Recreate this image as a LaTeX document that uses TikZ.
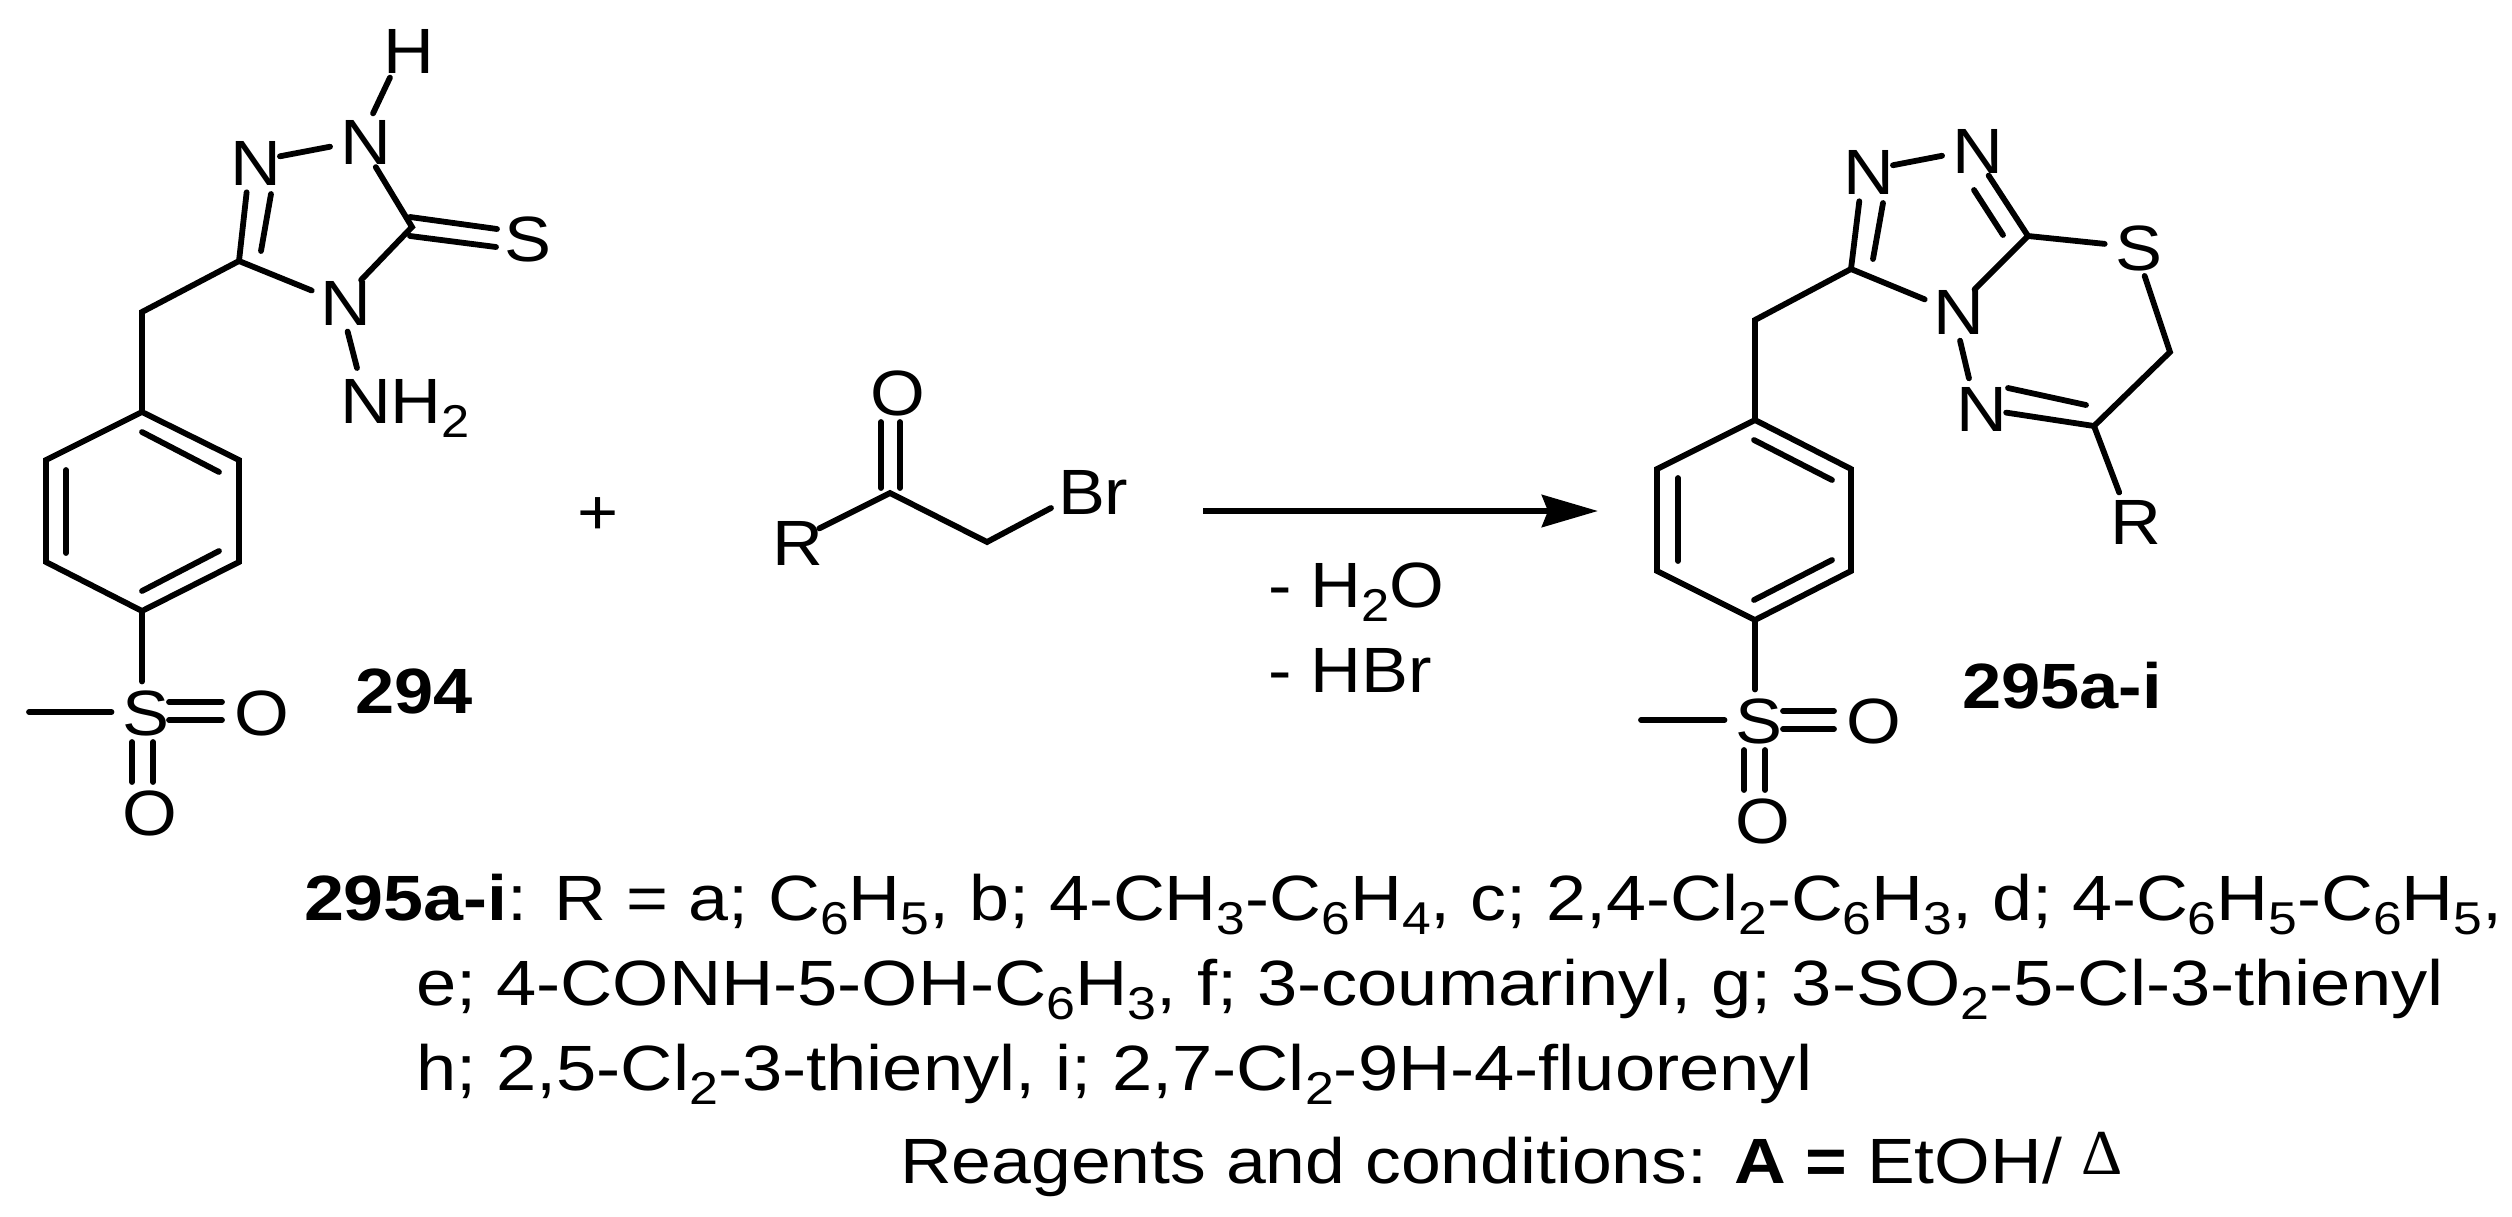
\documentclass[tikz,border=0pt]{standalone}
\usepackage{fontspec}
\setmainfont[FakeStretch=1.1]{Liberation Sans}
\newfontfamily\legendfont[FakeStretch=1.13]{Liberation Sans}
\newfontfamily\firstfont[FakeStretch=1.123]{Liberation Sans}
\newfontfamily\lastfont[FakeStretch=1.118]{Liberation Sans}
\newfontfamily\deltafont{Liberation Serif}
\usetikzlibrary{arrows.meta}
\newcommand{\sbs}[1]{\raisebox{-7pt}{\fontsize{23}{24}\selectfont #1}}
\tikzset{
 chem/.style={font=\fontsize{32}{36}\selectfont},
 atom/.style={chem,circle,inner sep=0pt,outer sep=0pt,text width=20pt,align=center,text height=23pt,text depth=0pt},
 txt/.style={chem,inner sep=0pt,outer sep=0pt,anchor=base west},
 lbl/.style={font=\fontsize{32}{36}\selectfont\bfseries,inner sep=0pt,outer sep=0pt,anchor=base},
 bond/.style={line width=2.9pt,line cap=round,line join=miter},
 rarrow/.style={line width=3.2pt,-{Stealth[length=28pt,width=16pt,inset=3pt]}}
}
\begin{document}
\begin{tikzpicture}[x=0.5pt,y=-0.5pt]
\useasboundingbox (0,0) rectangle (2512,1216);
\fill[white] (0,0) rectangle (2512,1216);

% ---------- compound 294 ----------
\node[atom] (aN1) at (250,162) {N};
\node[atom] (aN2) at (360,141) {N};
\node[atom] (aH) at (403,50) {H};
\node[atom] (aS) at (524,238) {S};
\node[atom] (aN4) at (340,302) {N};
\node[txt] (aNH) at (340,423) {NH\sbs{2}};
\coordinate (aNHe) at (357,368);
\coordinate (aC5) at (412,227);
\coordinate (aC3) at (239,261);
\coordinate (aCH) at (142,312);
\coordinate (aR1) at (142,412);
\coordinate (aR2) at (239,460);
\coordinate (aR3) at (239,562);
\coordinate (aR4) at (142,611);
\coordinate (aR5) at (46,562);
\coordinate (aR6) at (46,460);
\node[atom] (aSO) at (142,712) {S};
\node[atom] (aO1) at (254,712) {O};
\node[atom] (aO2) at (142,812) {O};
\coordinate (aMe) at (29,712);
\coordinate (ai1) at (271,194); \coordinate (ai2) at (261,251);
\coordinate (as1) at (410,217); \coordinate (as2) at (497,229);
\coordinate (as3) at (410,236); \coordinate (as4) at (496,247);
\coordinate (ar1) at (142,432); \coordinate (ar2) at (219,472);
\coordinate (ar3) at (219,551); \coordinate (ar4) at (142,591);
\coordinate (ar5) at (66,553); \coordinate (ar6) at (66,470);
\coordinate (ax1) at (169,702); \coordinate (ax2) at (222,702);
\coordinate (ax3) at (169,720); \coordinate (ax4) at (222,720);
\coordinate (ay1) at (132,742); \coordinate (ay2) at (132,782);
\coordinate (ay3) at (153,742); \coordinate (ay4) at (153,782);
\draw[bond] (aN1) -- (aN2);
\draw[bond] (aN2) -- (aH);
\draw[bond] (aN2) -- (aC5) -- (aN4);
\draw[bond] (aN4) -- (aNHe);
\draw[bond] (aN4) -- (aC3) -- (aN1);
\draw[bond] (ai1) -- (ai2);
\draw[bond] (as1) -- (as2);
\draw[bond] (as3) -- (as4);
\draw[bond] (aC3) -- (aCH) -- (aR1);
\draw[bond] (aR1) -- (aR2) -- (aR3) -- (aR4) -- (aR5) -- (aR6) -- cycle;
\draw[bond] (ar1) -- (ar2);
\draw[bond] (ar3) -- (ar4);
\draw[bond] (ar5) -- (ar6);
\draw[bond] (aR4) -- (aSO);
\draw[bond] (aMe) -- (aSO);
\draw[bond] (ax1) -- (ax2);
\draw[bond] (ax3) -- (ax4);
\draw[bond] (ay1) -- (ay2);
\draw[bond] (ay3) -- (ay4);
\node[lbl] (l294) at (414,713) {294};

\node[chem,inner sep=0pt] (plus) at (598,516) {+};

% ---------- bromoketone ----------
\node[atom] (bO) at (890,392) {O};
\coordinate (bC) at (890,493);
\node[atom] (bR) at (792,542) {R};
\coordinate (bCH) at (987,542);
\node[txt] (bBr) at (1058,514) {Br};
\coordinate (bBre) at (1051,508);
\coordinate (bd1) at (881,422); \coordinate (bd2) at (881,488);
\coordinate (bd3) at (900,422); \coordinate (bd4) at (900,488);
\draw[bond] (bd1) -- (bd2);
\draw[bond] (bd3) -- (bd4);
\draw[bond] (bR) -- (bC) -- (bCH) -- (bBre);

% ---------- arrow ----------
\coordinate (arrA) at (1203,511);
\coordinate (arrB) at (1598,511);
\draw[rarrow] (arrA) -- (arrB);
\node[txt] (loss1) at (1268,607) {- H\sbs{2}O};
\node[txt] (loss2) at (1268,692) {- HBr};

% ---------- compound 295 ----------
\node[atom] (cN1) at (1863,171) {N};
\node[atom] (cN2) at (1972,150) {N};
\node[atom] (cS) at (2135,247) {S};
\node[atom] (cN4) at (1953,311) {N};
\node[atom] (cN5) at (1976,408) {N};
\node[atom] (cR) at (2130,521) {R};
\coordinate (cC3) at (1851,269);
\coordinate (cCH) at (1755,320);
\coordinate (cC8) at (2028,236);
\coordinate (cCS) at (2170,352);
\coordinate (cC6) at (2094,426);
\coordinate (cn1) at (1883,203); \coordinate (cn2) at (1873,259);
\coordinate (cn3) at (1974,190); \coordinate (cn4) at (2003,235);
\coordinate (cn5) at (2008,388); \coordinate (cn6) at (2086,405);
\coordinate (cR1) at (1755,420);
\coordinate (cR2) at (1851,469);
\coordinate (cR3) at (1851,571);
\coordinate (cR4) at (1755,620);
\coordinate (cR5) at (1657,571);
\coordinate (cR6) at (1657,469);
\coordinate (cr1) at (1754,440); \coordinate (cr2) at (1832,480);
\coordinate (cr3) at (1832,560); \coordinate (cr4) at (1754,600);
\coordinate (cr5) at (1678,561); \coordinate (cr6) at (1678,478);
\node[atom] (cSO) at (1755,720) {S};
\node[atom] (cO1) at (1866,720) {O};
\node[atom] (cO2) at (1755,820) {O};
\coordinate (cMe) at (1641,720);
\coordinate (cx1) at (1783,711); \coordinate (cx2) at (1834,711);
\coordinate (cx3) at (1783,729); \coordinate (cx4) at (1834,729);
\coordinate (cy1) at (1744,750); \coordinate (cy2) at (1744,790);
\coordinate (cy3) at (1765,750); \coordinate (cy4) at (1765,790);
\draw[bond] (cN1) -- (cN2);
\draw[bond] (cN2) -- (cC8) -- (cN4);
\draw[bond] (cN4) -- (cC3) -- (cN1);
\draw[bond] (cN4) -- (cN5);
\draw[bond] (cC8) -- (cS);
\draw[bond] (cS) -- (cCS) -- (cC6) -- (cN5);
\draw[bond] (cC6) -- (cR);
\draw[bond] (cn1) -- (cn2);
\draw[bond] (cn3) -- (cn4);
\draw[bond] (cn5) -- (cn6);
\draw[bond] (cC3) -- (cCH) -- (cR1);
\draw[bond] (cR1) -- (cR2) -- (cR3) -- (cR4) -- (cR5) -- (cR6) -- cycle;
\draw[bond] (cr1) -- (cr2);
\draw[bond] (cr3) -- (cr4);
\draw[bond] (cr5) -- (cr6);
\draw[bond] (cR4) -- (cSO);
\draw[bond] (cMe) -- (cSO);
\draw[bond] (cx1) -- (cx2);
\draw[bond] (cx3) -- (cx4);
\draw[bond] (cy1) -- (cy2);
\draw[bond] (cy3) -- (cy4);
\node[lbl] (l295) at (2062,708) {295a-i};

% ---------- legend ----------
\node[txt] (t1) at (304,920) {\firstfont\textbf{295a-i}: R = a; C\sbs{6}H\sbs{5}, b; 4-CH\sbs{3}-C\sbs{6}H\sbs{4}, c; 2,4-Cl\sbs{2}-C\sbs{6}H\sbs{3}, d; 4-C\sbs{6}H\sbs{5}-C\sbs{6}H\sbs{5},};
\node[txt] (t2) at (416,1005) {\legendfont e; 4-CONH-5-OH-C\sbs{6}H\sbs{3}, f; 3-coumarinyl, g; 3-SO\sbs{2}-5-Cl-3-thienyl};
\node[txt] (t3) at (416,1090) {\legendfont h; 2,5-Cl\sbs{2}-3-thienyl, i; 2,7-Cl\sbs{2}-9H-4-fluorenyl};
\node[txt] (t4) at (900,1183) {\lastfont Reagents and conditions: \textbf{A =} EtOH/ \raisebox{4.5pt}{\deltafont\fontsize{32}{36}\selectfont Δ}};
\end{tikzpicture}
\end{document}
